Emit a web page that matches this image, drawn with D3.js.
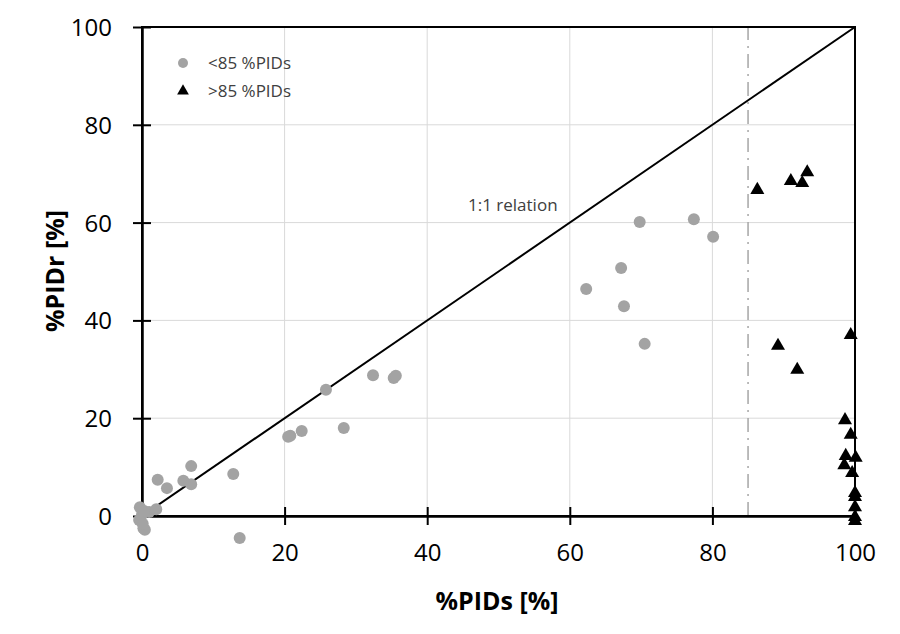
<!DOCTYPE html>
<html>
<head>
<meta charset="utf-8">
<script src="https://cdn.jsdelivr.net/npm/d3@7"></script>
<style>
  body { margin: 0; background: #fff; }
  text { font-family: "Open Sans", "Noto Sans", sans-serif; }
</style>
</head>
<body>
<svg id="chart" width="900" height="634"></svg>
<script>
// points below the 85 %PIDs threshold (circles)
const lowX = [69.8, 77.4, 80.1, 62.3, 67.2, 67.6, 70.5, 35.3, 35.6, 32.4, 25.8, 28.3, 22.4,
    20.8, 20.5, 12.8, 13.7, 2.2, 3.5, 6.9, 5.8, 6.9, 1.0, 2.0, 0.0, -0.4, 0.2, 0.4, -0.3, 0.3, 0.1];
const lowY = [60.1, 60.7, 57.1, 46.4, 50.7, 42.9, 35.2, 28.2, 28.7, 28.8, 25.8, 18.0, 17.4,
    16.4, 16.2, 8.6, -4.5, 7.4, 5.7, 10.2, 7.2, 6.5, 0.8, 1.4, 0.3, -0.8, -2.5, -2.8, 1.8, 1.0, -1.6];

// points above the threshold (triangles)
const highX = [86.3, 91.0, 92.6, 93.3, 89.2, 91.9, 99.4, 98.6, 99.4, 98.7, 100.1, 98.5, 99.6,
    100.0, 100.0, 100.0, 100.0, 100.0];
const highY = [66.7, 68.5, 68.1, 70.3, 34.8, 29.9, 37.0, 19.6, 16.6, 12.3, 11.9, 10.4, 8.8,
    4.7, 3.9, 1.8, -0.2, -1.0];

const ticks = [0, 20, 40, 60, 80, 100];
const threshold = 85;

const svg = d3.select("#chart");
const x = d3.scaleLinear().domain([0, 100]).range([142, 855]);
const y = d3.scaleLinear().domain([0, 100]).range([516, 27]);

// grid
svg.append("g").selectAll("line.gx")
    .data(ticks.slice(1, -1))
    .enter().append("line")
    .attr("x1", d => x(d)).attr("x2", d => x(d))
    .attr("y1", y(0)).attr("y2", y(100))
    .attr("stroke", "#d9d9d9").attr("stroke-width", 1);
svg.append("g").selectAll("line.gy")
    .data(ticks.slice(1, -1))
    .enter().append("line")
    .attr("x1", x(0)).attr("x2", x(100))
    .attr("y1", d => y(d)).attr("y2", d => y(d))
    .attr("stroke", "#d9d9d9").attr("stroke-width", 1);

// threshold line
svg.append("line")
    .attr("x1", x(threshold)).attr("x2", x(threshold))
    .attr("y1", y(0)).attr("y2", y(100))
    .attr("stroke", "#a6a6a6").attr("stroke-width", 1.5)
    .attr("stroke-dasharray", "14,6,2,6");

// frame
svg.append("rect")
    .attr("x", x(0)).attr("y", y(100))
    .attr("width", x(100) - x(0)).attr("height", y(0) - y(100))
    .attr("fill", "none").attr("stroke", "#000").attr("stroke-width", 2);

// axes with ticks crossing the line
const xAxis = svg.append("g")
    .attr("transform", `translate(0,${y(0)})`)
    .call(d3.axisBottom(x).tickValues(ticks).tickSize(9).tickSizeOuter(0).tickPadding(19));
xAxis.selectAll(".tick line").attr("y1", -9).attr("stroke-width", 2);
const yAxis = svg.append("g")
    .attr("transform", `translate(${x(0)},0)`)
    .call(d3.axisLeft(y).tickValues(ticks).tickSize(9).tickSizeOuter(0).tickPadding(21));
yAxis.selectAll(".tick line").attr("x1", 9).attr("stroke-width", 2);
svg.selectAll(".domain").attr("stroke", "#000").attr("stroke-width", 2.5);
svg.selectAll(".tick text")
    .attr("font-size", 24).attr("fill", "#000")
    .style("font-family", "'Open Sans', sans-serif");
yAxis.selectAll(".tick text").attr("dy", "0.35em");

// 1:1 line
svg.append("line")
    .attr("x1", x(0)).attr("y1", y(0))
    .attr("x2", x(100)).attr("y2", y(100))
    .attr("stroke", "#000").attr("stroke-width", 2);
svg.append("text")
    .attr("x", 468).attr("y", 211)
    .attr("font-size", 17).attr("fill", "#404040")
    .text("1:1 relation");

// points
svg.append("g").selectAll("circle")
    .data(lowX.map((d, i) => [d, lowY[i]]))
    .enter().append("circle")
    .attr("cx", d => x(d[0])).attr("cy", d => y(d[1]))
    .attr("r", 6).attr("fill", "#a3a3a3");

const tri = d3.symbol().type(d3.symbolTriangle).size(85);
svg.append("g").selectAll("path")
    .data(highX.map((d, i) => [d, highY[i]]))
    .enter().append("path")
    .attr("d", tri)
    .attr("transform", d => `translate(${x(d[0])},${y(d[1])})`)
    .attr("fill", "#000");

// legend
svg.append("circle").attr("cx", 183).attr("cy", 63).attr("r", 5).attr("fill", "#a3a3a3");
svg.append("path").attr("d", d3.symbol().type(d3.symbolTriangle).size(60))
    .attr("transform", "translate(183,91)").attr("fill", "#000");
svg.append("text").attr("x", 208).attr("y", 69)
    .attr("font-size", 17).attr("fill", "#404040").text("<85 %PIDs");
svg.append("text").attr("x", 208).attr("y", 97)
    .attr("font-size", 17).attr("fill", "#404040").text(">85 %PIDs");

// axis titles
svg.append("text")
    .attr("x", 497).attr("y", 610)
    .attr("text-anchor", "middle")
    .attr("font-size", 25).attr("font-weight", "bold")
    .text("%PIDs [%]");
svg.append("text")
    .attr("transform", "translate(64,271) rotate(-90)")
    .attr("text-anchor", "middle")
    .attr("font-size", 25).attr("font-weight", "bold")
    .text("%PIDr [%]");
</script>
</body>
</html>
